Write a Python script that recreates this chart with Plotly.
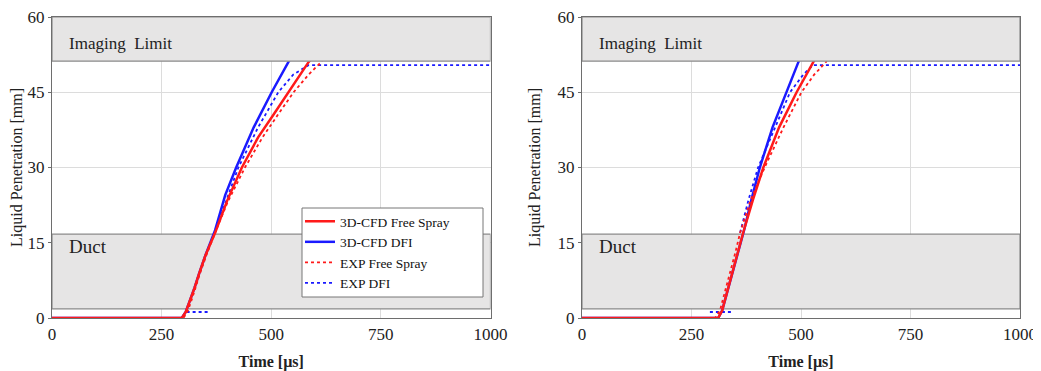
import plotly.graph_objects as go

# ---- data (time in us, penetration in mm) ----
# left panel
cfd_free_t_L = [0, 296, 305, 315, 325, 336, 350, 372, 400, 433, 470, 505, 540, 585, 625, 665]
cfd_free_y_L = [0, 0, 1.2, 3.5, 6, 9, 12.5, 17, 23.5, 30, 36, 40.5, 45, 51, 55.5, 60]
cfd_dfi_t_L = [0, 296, 305, 315, 325, 336, 350, 372, 383, 395, 420, 460, 501, 539, 570, 600]
cfd_dfi_y_L = [0, 0, 1.2, 3.5, 6, 9, 12.5, 17.5, 21, 24.5, 30, 38, 45, 51, 55.5, 60]
exp_free_t_L = [0, 300, 310, 320, 336, 352, 372, 400, 440, 480, 515, 551, 585, 616]
exp_free_y_L = [0, 0, 1.5, 4, 8.5, 12.5, 17, 23, 30, 36, 40.5, 45, 48.5, 51.2]
exp_dfi_t_L = [307, 361, None, 381, 400, 425, 470, 516, 550, 585, 1000]
exp_dfi_y_L = [1.2, 1.2, None, 19.5, 24, 30, 38, 45, 48.5, 50.4, 50.4]

# right panel
cfd_free_t_R = [0, 311, 320, 331, 342, 355, 368, 390, 414, 450, 490, 528, 560, 594]
cfd_free_y_R = [0, 0, 1.5, 5, 9, 13, 17, 23.5, 30, 38, 45, 51, 55.5, 60]
cfd_dfi_t_R = [0, 311, 320, 331, 342, 355, 370, 388, 406, 435, 467, 494, 518, 541]
cfd_dfi_y_R = [0, 0, 1.5, 5, 9, 13, 17.5, 24, 30, 38, 45, 51, 55.5, 60]
exp_free_t_R = [0, 304, 315, 326, 338, 350, 361, 385, 417, 460, 501, 530, 559]
exp_free_y_R = [0, 0, 1.5, 5, 9, 13, 17, 23.5, 30, 38, 45, 48.5, 51.2]
exp_dfi_t_R = [292, 342, None, 361, 380, 402, 440, 475, 505, 527, 1000]
exp_dfi_y_R = [1.2, 1.2, None, 17, 23.5, 30, 38, 45, 48.5, 50.4, 50.4]

# bands
imaging_limit = [51.2, 60]
duct = [1.8, 16.7]

x_ticks = [0, 250, 500, 750, 1000]
y_ticks = [0, 15, 30, 45, 60]

RED = '#ff1a1a'
BLUE = '#1a1aff'
FONT = 'Liberation Serif'

# page has an 8px body margin, so the figure is offset inside the window
W, H = 1033, 363
OFF = 8


def px_x(p):
    return (p - OFF) / W


def px_y(p):
    return 1 - (p - OFF) / H


fig = go.Figure()

panels = [
    ('x', 'y', True,
     (cfd_free_t_L, cfd_free_y_L), (cfd_dfi_t_L, cfd_dfi_y_L),
     (exp_free_t_L, exp_free_y_L), (exp_dfi_t_L, exp_dfi_y_L)),
    ('x2', 'y2', False,
     (cfd_free_t_R, cfd_free_y_R), (cfd_dfi_t_R, cfd_dfi_y_R),
     (exp_free_t_R, exp_free_y_R), (exp_dfi_t_R, exp_dfi_y_R)),
]

for xa, ya, leg, cfree, cdfi, efree, edfi in panels:
    # drawing order: blue under red
    fig.add_trace(go.Scatter(x=cdfi[0], y=cdfi[1], mode='lines', name='3D-CFD DFI',
                             line=dict(color=BLUE, width=2.5), xaxis=xa, yaxis=ya,
                             showlegend=leg, legendrank=2))
    fig.add_trace(go.Scatter(x=edfi[0], y=edfi[1], mode='lines', name='EXP DFI',
                             line=dict(color=BLUE, width=1.8, dash='dot'), xaxis=xa, yaxis=ya,
                             showlegend=leg, legendrank=4))
    fig.add_trace(go.Scatter(x=efree[0], y=efree[1], mode='lines', name='EXP Free Spray',
                             line=dict(color=RED, width=1.8, dash='dot'), xaxis=xa, yaxis=ya,
                             showlegend=leg, legendrank=3))
    fig.add_trace(go.Scatter(x=cfree[0], y=cfree[1], mode='lines', name='3D-CFD Free Spray',
                             line=dict(color=RED, width=2.5), xaxis=xa, yaxis=ya,
                             showlegend=leg, legendrank=1))

    # shaded bands
    fig.add_shape(type='rect', xref=xa, yref=ya, x0=0, x1=1000,
                  y0=imaging_limit[0], y1=imaging_limit[1],
                  fillcolor='#e6e5e5', line=dict(color='#8a8a8a', width=1.2), layer='above')
    fig.add_shape(type='rect', xref=xa, yref=ya, x0=0, x1=1000,
                  y0=duct[0], y1=duct[1],
                  fillcolor='#e6e5e5', line=dict(color='#8a8a8a', width=1.2), layer='between')
    fig.add_annotation(x=34, y=54.8, xref=xa, yref=ya, text='Imaging  Limit',
                       showarrow=False, xanchor='left', yanchor='middle',
                       font=dict(family=FONT, size=17, color='#222'))
    fig.add_annotation(x=34, y=14.2, xref=xa, yref=ya, text='Duct',
                       showarrow=False, xanchor='left', yanchor='middle',
                       font=dict(family=FONT, size=19, color='#222'))

# legend frame in the left panel
fig.add_shape(type='rect', xref='paper', yref='paper',
              x0=px_x(302), x1=px_x(483), y0=px_y(297), y1=px_y(208),
              fillcolor='white', line=dict(color='#777', width=1), layer='above')

axis_common = dict(
    showgrid=True, gridcolor='#dcdcdc', gridwidth=1,
    showline=True, mirror=True, linecolor='#6e6e6e', linewidth=1.2,
    zeroline=False, automargin=False, ticklabeloverflow='allow',
    tickfont=dict(family=FONT, size=17, color='#222'),
)

x_title = dict(text='<b>Time [µs]</b>', font=dict(size=16), standoff=19)
y_title = dict(text='Liquid Penetration [mm]', font=dict(size=16), standoff=12)

fig.update_layout(
    width=W, height=H,
    margin=dict(l=0, r=0, t=0, b=0),
    paper_bgcolor='white', plot_bgcolor='white',
    font=dict(family=FONT, color='#222'),
    xaxis=dict(domain=[px_x(52), px_x(490.5)], range=[0, 1000], tickvals=x_ticks,
               title=x_title, **axis_common),
    yaxis=dict(domain=[px_y(318), px_y(17)], range=[0, 60], tickvals=y_ticks,
               ticks='outside', ticklen=3, tickcolor='#6e6e6e',
               title=y_title, **axis_common),
    xaxis2=dict(domain=[px_x(582), px_x(1020)], range=[0, 1000], tickvals=x_ticks,
                anchor='y2', title=x_title, **axis_common),
    yaxis2=dict(domain=[px_y(318), px_y(17)], range=[0, 60], tickvals=y_ticks,
                anchor='x2', ticks='outside', ticklen=3, tickcolor='#6e6e6e',
                title=y_title, **axis_common),
    legend=dict(x=px_x(300), y=px_y(206), xanchor='left', yanchor='top',
                bgcolor='rgba(0,0,0,0)', borderwidth=0,
                font=dict(family=FONT, size=13.5, color='#111'),
                tracegroupgap=0, itemwidth=30),
)

fig.write_html('out.html')
